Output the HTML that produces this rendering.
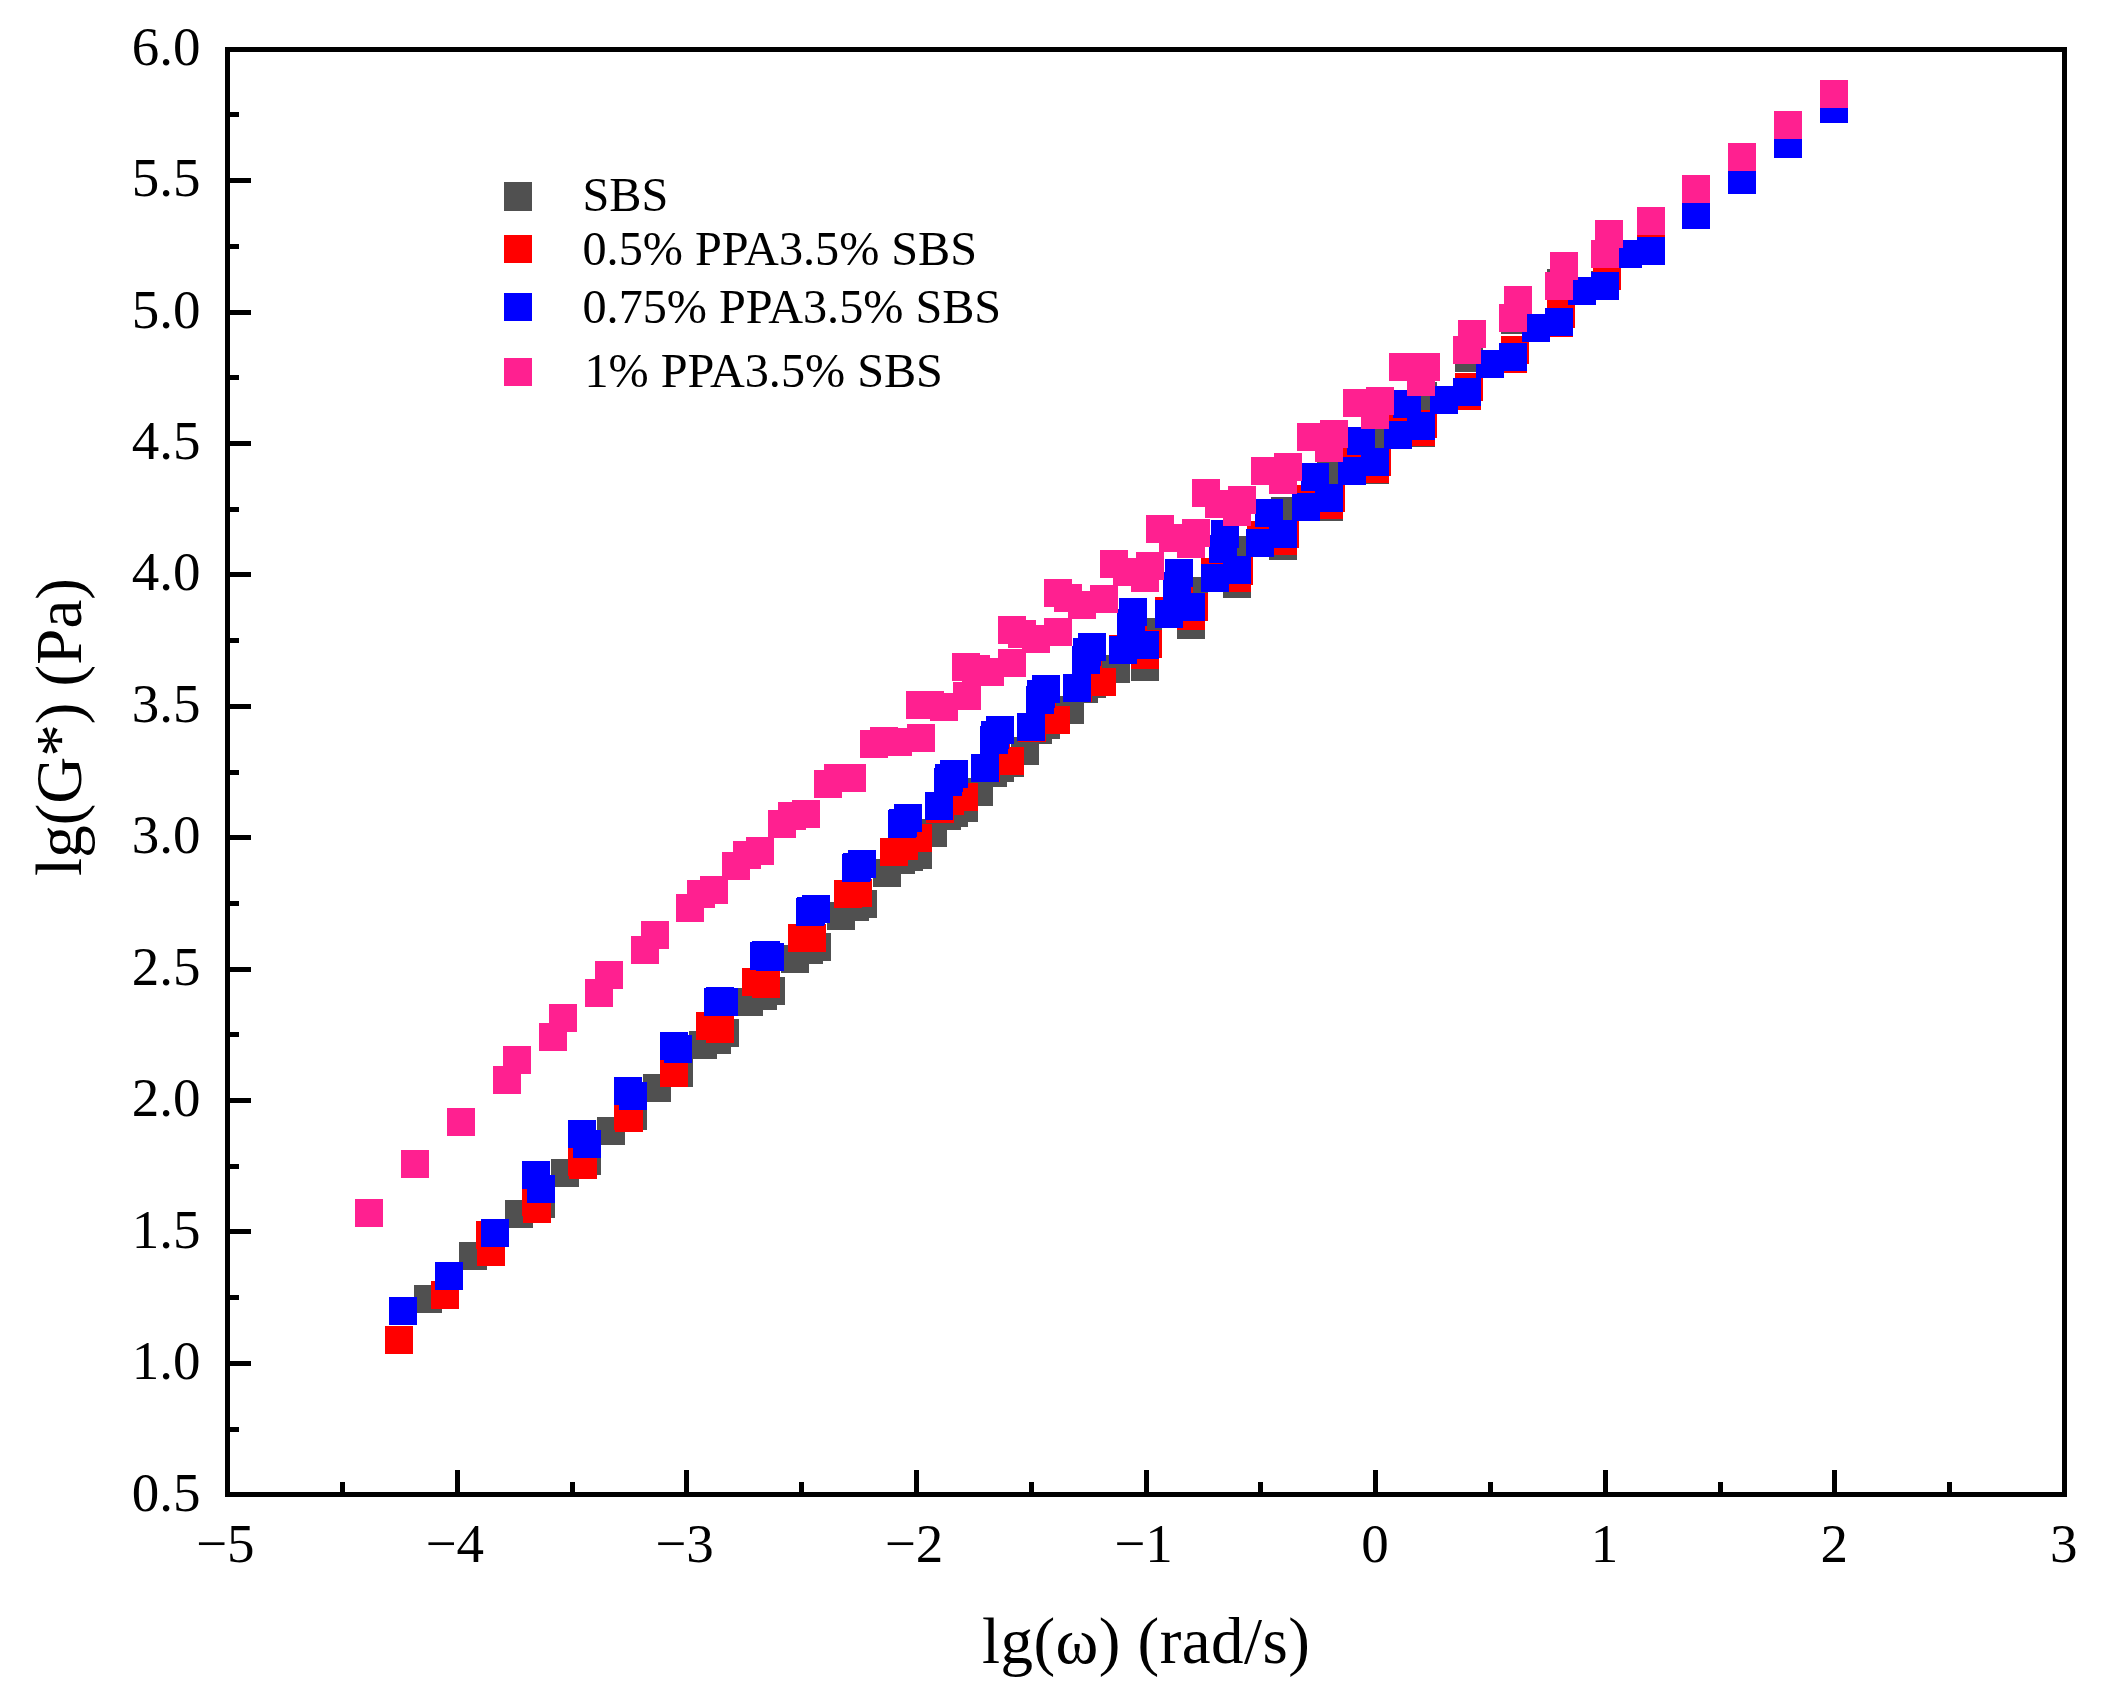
<!DOCTYPE html>
<html lang="en"><head><meta charset="utf-8"><title>lg(G*) vs lg(ω)</title>
<style>
html,body{margin:0;padding:0;background:#fff;}
svg{display:block;}
text{font-family:"Liberation Serif",serif;fill:#000;}
.tk{font-size:55px;}
.ti{font-size:65px;}
.tx{letter-spacing:0.45px;}
.lg{font-size:48.2px;}
</style></head><body>
<svg width="2103" height="1703" viewBox="0 0 2103 1703" shape-rendering="crispEdges">
<rect x="0" y="0" width="2103" height="1703" fill="#fff"/>

<g fill="#505050">
<rect x="413.5" y="1284.5" width="28" height="28"/>
<rect x="459.4" y="1241.5" width="28" height="28"/>
<rect x="505.3" y="1200.4" width="28" height="28"/>
<rect x="551.3" y="1158.5" width="28" height="28"/>
<rect x="597.2" y="1116.9" width="28" height="28"/>
<rect x="643.1" y="1074.0" width="28" height="28"/>
<rect x="689.0" y="1030.6" width="28" height="28"/>
<rect x="734.9" y="987.7" width="28" height="28"/>
<rect x="780.9" y="944.8" width="28" height="28"/>
<rect x="826.8" y="901.8" width="28" height="28"/>
<rect x="872.7" y="859.0" width="28" height="28"/>
<rect x="918.6" y="818.6" width="28" height="28"/>
<rect x="964.5" y="777.7" width="28" height="28"/>
<rect x="1010.5" y="736.7" width="28" height="28"/>
<rect x="1056.4" y="695.8" width="28" height="28"/>
<rect x="1102.3" y="654.8" width="28" height="28"/>
<rect x="527.1" y="1190.0" width="28" height="28"/>
<rect x="573.0" y="1147.0" width="28" height="28"/>
<rect x="618.9" y="1102.0" width="28" height="28"/>
<rect x="664.9" y="1058.6" width="28" height="28"/>
<rect x="710.8" y="1018.7" width="28" height="28"/>
<rect x="756.7" y="976.7" width="28" height="28"/>
<rect x="802.6" y="932.8" width="28" height="28"/>
<rect x="848.5" y="890.0" width="28" height="28"/>
<rect x="894.5" y="842.6" width="28" height="28"/>
<rect x="940.4" y="798.6" width="28" height="28"/>
<rect x="986.3" y="753.7" width="28" height="28"/>
<rect x="1032.2" y="710.8" width="28" height="28"/>
<rect x="1078.1" y="670.0" width="28" height="28"/>
<rect x="1124.1" y="630.0" width="28" height="28"/>
<rect x="1170.0" y="592.0" width="28" height="28"/>
<rect x="1215.9" y="555.0" width="28" height="28"/>
<rect x="703.0" y="1025.7" width="28" height="28"/>
<rect x="748.9" y="981.7" width="28" height="28"/>
<rect x="794.8" y="935.8" width="28" height="28"/>
<rect x="840.8" y="893.0" width="28" height="28"/>
<rect x="886.7" y="845.6" width="28" height="28"/>
<rect x="932.6" y="801.6" width="28" height="28"/>
<rect x="978.5" y="758.7" width="28" height="28"/>
<rect x="1024.4" y="715.8" width="28" height="28"/>
<rect x="1070.4" y="674.8" width="28" height="28"/>
<rect x="1116.3" y="636.0" width="28" height="28"/>
<rect x="1162.2" y="598.0" width="28" height="28"/>
<rect x="1208.1" y="560.0" width="28" height="28"/>
<rect x="1254.0" y="523.0" width="28" height="28"/>
<rect x="1300.0" y="486.0" width="28" height="28"/>
<rect x="1345.9" y="450.0" width="28" height="28"/>
<rect x="1391.8" y="415.0" width="28" height="28"/>
<rect x="904.0" y="840.6" width="28" height="28"/>
<rect x="949.9" y="793.6" width="28" height="28"/>
<rect x="995.8" y="748.7" width="28" height="28"/>
<rect x="1041.8" y="705.0" width="28" height="28"/>
<rect x="1087.7" y="661.0" width="28" height="28"/>
<rect x="1133.6" y="618.3" width="28" height="28"/>
<rect x="1179.5" y="577.1" width="28" height="28"/>
<rect x="1225.4" y="536.3" width="28" height="28"/>
<rect x="1271.4" y="497.3" width="28" height="28"/>
<rect x="1317.3" y="462.1" width="28" height="28"/>
<rect x="1363.2" y="423.0" width="28" height="28"/>
<rect x="1409.1" y="382.3" width="28" height="28"/>
<rect x="1455.0" y="343.7" width="28" height="28"/>
<rect x="1501.0" y="305.5" width="28" height="28"/>
<rect x="1546.9" y="269.3" width="28" height="28"/>
<rect x="1592.8" y="241.0" width="28" height="28"/>
<rect x="1131.4" y="652.8" width="28" height="28"/>
<rect x="1177.3" y="610.7" width="28" height="28"/>
<rect x="1223.2" y="569.8" width="28" height="28"/>
<rect x="1269.2" y="531.9" width="28" height="28"/>
<rect x="1315.1" y="493.0" width="28" height="28"/>
<rect x="1361.0" y="456.0" width="28" height="28"/>
<rect x="1406.9" y="419.0" width="28" height="28"/>
<rect x="1452.8" y="382.0" width="28" height="28"/>
<rect x="1498.8" y="345.0" width="28" height="28"/>
<rect x="1544.7" y="308.0" width="28" height="28"/>
<rect x="1590.6" y="271.1" width="28" height="28"/>
<rect x="1636.5" y="236.0" width="28" height="28"/>
<rect x="1682.4" y="201.0" width="28" height="28"/>
<rect x="1728.4" y="166.0" width="28" height="28"/>
<rect x="1774.3" y="130.0" width="28" height="28"/>
<rect x="1820.2" y="95.0" width="28" height="28"/>
</g>

<g fill="#FF0000">
<rect x="384.9" y="1325.8" width="28" height="28"/>
<rect x="430.8" y="1281.0" width="28" height="28"/>
<rect x="476.7" y="1237.8" width="28" height="28"/>
<rect x="522.7" y="1194.8" width="28" height="28"/>
<rect x="568.6" y="1151.1" width="28" height="28"/>
<rect x="614.5" y="1103.9" width="28" height="28"/>
<rect x="660.4" y="1058.8" width="28" height="28"/>
<rect x="706.3" y="1014.7" width="28" height="28"/>
<rect x="752.3" y="969.7" width="28" height="28"/>
<rect x="798.2" y="923.8" width="28" height="28"/>
<rect x="844.1" y="879.3" width="28" height="28"/>
<rect x="890.0" y="832.0" width="28" height="28"/>
<rect x="935.9" y="786.7" width="28" height="28"/>
<rect x="981.9" y="743.0" width="28" height="28"/>
<rect x="1027.8" y="700.0" width="28" height="28"/>
<rect x="1073.7" y="658.0" width="28" height="28"/>
<rect x="476.0" y="1221.0" width="28" height="28"/>
<rect x="521.9" y="1188.0" width="28" height="28"/>
<rect x="567.8" y="1147.9" width="28" height="28"/>
<rect x="613.8" y="1101.9" width="28" height="28"/>
<rect x="659.7" y="1058.0" width="28" height="28"/>
<rect x="705.6" y="1014.0" width="28" height="28"/>
<rect x="751.5" y="969.0" width="28" height="28"/>
<rect x="797.4" y="923.0" width="28" height="28"/>
<rect x="843.4" y="879.0" width="28" height="28"/>
<rect x="889.3" y="832.0" width="28" height="28"/>
<rect x="935.2" y="787.0" width="28" height="28"/>
<rect x="981.1" y="743.0" width="28" height="28"/>
<rect x="1027.0" y="700.0" width="28" height="28"/>
<rect x="1073.0" y="658.0" width="28" height="28"/>
<rect x="1118.9" y="618.0" width="28" height="28"/>
<rect x="1164.8" y="580.0" width="28" height="28"/>
<rect x="696.1" y="1011.7" width="28" height="28"/>
<rect x="742.0" y="967.7" width="28" height="28"/>
<rect x="787.9" y="923.8" width="28" height="28"/>
<rect x="833.9" y="879.9" width="28" height="28"/>
<rect x="879.8" y="837.6" width="28" height="28"/>
<rect x="925.7" y="794.6" width="28" height="28"/>
<rect x="971.6" y="754.1" width="28" height="28"/>
<rect x="1017.5" y="713.8" width="28" height="28"/>
<rect x="1063.5" y="674.2" width="28" height="28"/>
<rect x="1109.4" y="635.1" width="28" height="28"/>
<rect x="1155.3" y="597.0" width="28" height="28"/>
<rect x="1201.2" y="558.0" width="28" height="28"/>
<rect x="1247.1" y="521.4" width="28" height="28"/>
<rect x="1293.1" y="484.5" width="28" height="28"/>
<rect x="1339.0" y="448.1" width="28" height="28"/>
<rect x="1384.9" y="413.7" width="28" height="28"/>
<rect x="904.0" y="824.0" width="28" height="28"/>
<rect x="949.9" y="782.7" width="28" height="28"/>
<rect x="995.8" y="746.7" width="28" height="28"/>
<rect x="1041.8" y="705.8" width="28" height="28"/>
<rect x="1087.7" y="667.8" width="28" height="28"/>
<rect x="1133.6" y="629.9" width="28" height="28"/>
<rect x="1179.5" y="592.7" width="28" height="28"/>
<rect x="1225.4" y="556.8" width="28" height="28"/>
<rect x="1271.4" y="519.8" width="28" height="28"/>
<rect x="1317.3" y="484.0" width="28" height="28"/>
<rect x="1363.2" y="448.1" width="28" height="28"/>
<rect x="1409.1" y="410.1" width="28" height="28"/>
<rect x="1455.0" y="372.7" width="28" height="28"/>
<rect x="1501.0" y="336.0" width="28" height="28"/>
<rect x="1546.9" y="300.2" width="28" height="28"/>
<rect x="1592.8" y="262.0" width="28" height="28"/>
<rect x="1131.4" y="640.9" width="28" height="28"/>
<rect x="1177.3" y="602.1" width="28" height="28"/>
<rect x="1223.2" y="564.0" width="28" height="28"/>
<rect x="1269.2" y="527.0" width="28" height="28"/>
<rect x="1315.1" y="491.1" width="28" height="28"/>
<rect x="1361.0" y="454.5" width="28" height="28"/>
<rect x="1406.9" y="418.0" width="28" height="28"/>
<rect x="1452.8" y="381.8" width="28" height="28"/>
<rect x="1498.8" y="344.7" width="28" height="28"/>
<rect x="1544.7" y="308.9" width="28" height="28"/>
<rect x="1590.6" y="272.0" width="28" height="28"/>
<rect x="1636.5" y="235.0" width="28" height="28"/>
<rect x="1682.4" y="200.9" width="28" height="28"/>
<rect x="1728.4" y="166.1" width="28" height="28"/>
<rect x="1774.3" y="129.9" width="28" height="28"/>
<rect x="1820.2" y="94.8" width="28" height="28"/>
</g>

<g fill="#0000FF">
<rect x="388.9" y="1297.1" width="28" height="28"/>
<rect x="434.8" y="1261.9" width="28" height="28"/>
<rect x="480.7" y="1219.0" width="28" height="28"/>
<rect x="526.7" y="1175.0" width="28" height="28"/>
<rect x="572.6" y="1129.9" width="28" height="28"/>
<rect x="618.5" y="1082.0" width="28" height="28"/>
<rect x="664.4" y="1035.0" width="28" height="28"/>
<rect x="710.3" y="988.1" width="28" height="28"/>
<rect x="756.3" y="942.8" width="28" height="28"/>
<rect x="802.2" y="895.0" width="28" height="28"/>
<rect x="848.1" y="850.1" width="28" height="28"/>
<rect x="894.0" y="804.0" width="28" height="28"/>
<rect x="939.9" y="760.1" width="28" height="28"/>
<rect x="985.9" y="716.2" width="28" height="28"/>
<rect x="1031.8" y="675.2" width="28" height="28"/>
<rect x="1077.7" y="633.1" width="28" height="28"/>
<rect x="521.9" y="1161.1" width="28" height="28"/>
<rect x="567.8" y="1119.9" width="28" height="28"/>
<rect x="613.7" y="1077.0" width="28" height="28"/>
<rect x="659.7" y="1032.0" width="28" height="28"/>
<rect x="705.6" y="987.1" width="28" height="28"/>
<rect x="751.5" y="941.0" width="28" height="28"/>
<rect x="797.4" y="897.0" width="28" height="28"/>
<rect x="843.3" y="853.1" width="28" height="28"/>
<rect x="889.3" y="809.0" width="28" height="28"/>
<rect x="935.2" y="764.1" width="28" height="28"/>
<rect x="981.1" y="721.1" width="28" height="28"/>
<rect x="1027.0" y="680.2" width="28" height="28"/>
<rect x="1072.9" y="637.9" width="28" height="28"/>
<rect x="1118.9" y="598.1" width="28" height="28"/>
<rect x="1164.8" y="559.1" width="28" height="28"/>
<rect x="1210.7" y="520.2" width="28" height="28"/>
<rect x="704.1" y="988.0" width="28" height="28"/>
<rect x="750.0" y="942.0" width="28" height="28"/>
<rect x="795.9" y="898.0" width="28" height="28"/>
<rect x="841.9" y="854.0" width="28" height="28"/>
<rect x="887.8" y="810.0" width="28" height="28"/>
<rect x="933.7" y="767.7" width="28" height="28"/>
<rect x="979.6" y="725.7" width="28" height="28"/>
<rect x="1025.5" y="685.8" width="28" height="28"/>
<rect x="1071.5" y="645.9" width="28" height="28"/>
<rect x="1117.4" y="609.0" width="28" height="28"/>
<rect x="1163.3" y="572.0" width="28" height="28"/>
<rect x="1209.2" y="535.1" width="28" height="28"/>
<rect x="1255.1" y="498.9" width="28" height="28"/>
<rect x="1301.1" y="463.1" width="28" height="28"/>
<rect x="1347.0" y="427.2" width="28" height="28"/>
<rect x="1392.9" y="390.2" width="28" height="28"/>
<rect x="925.0" y="792.0" width="28" height="28"/>
<rect x="970.9" y="754.1" width="28" height="28"/>
<rect x="1016.8" y="712.8" width="28" height="28"/>
<rect x="1062.8" y="673.8" width="28" height="28"/>
<rect x="1108.7" y="635.9" width="28" height="28"/>
<rect x="1154.6" y="600.0" width="28" height="28"/>
<rect x="1200.5" y="564.1" width="28" height="28"/>
<rect x="1246.4" y="529.0" width="28" height="28"/>
<rect x="1292.4" y="493.4" width="28" height="28"/>
<rect x="1338.3" y="456.8" width="28" height="28"/>
<rect x="1384.2" y="421.4" width="28" height="28"/>
<rect x="1430.1" y="386.1" width="28" height="28"/>
<rect x="1476.0" y="350.2" width="28" height="28"/>
<rect x="1522.0" y="314.0" width="28" height="28"/>
<rect x="1567.9" y="276.9" width="28" height="28"/>
<rect x="1613.8" y="240.0" width="28" height="28"/>
<rect x="1131.4" y="631.3" width="28" height="28"/>
<rect x="1177.3" y="593.0" width="28" height="28"/>
<rect x="1223.2" y="555.7" width="28" height="28"/>
<rect x="1269.2" y="519.8" width="28" height="28"/>
<rect x="1315.1" y="484.0" width="28" height="28"/>
<rect x="1361.0" y="448.1" width="28" height="28"/>
<rect x="1406.9" y="412.0" width="28" height="28"/>
<rect x="1452.8" y="378.2" width="28" height="28"/>
<rect x="1498.8" y="343.1" width="28" height="28"/>
<rect x="1544.7" y="307.9" width="28" height="28"/>
<rect x="1590.6" y="272.1" width="28" height="28"/>
<rect x="1636.5" y="236.9" width="28" height="28"/>
<rect x="1682.4" y="200.9" width="28" height="28"/>
<rect x="1728.4" y="166.1" width="28" height="28"/>
<rect x="1774.3" y="129.9" width="28" height="28"/>
<rect x="1820.2" y="94.8" width="28" height="28"/>
</g>

<g fill="#FF2090">
<rect x="355.0" y="1199.0" width="28" height="28"/>
<rect x="400.9" y="1150.1" width="28" height="28"/>
<rect x="446.8" y="1107.9" width="28" height="28"/>
<rect x="492.8" y="1066.0" width="28" height="28"/>
<rect x="538.7" y="1023.1" width="28" height="28"/>
<rect x="584.6" y="979.1" width="28" height="28"/>
<rect x="630.5" y="936.2" width="28" height="28"/>
<rect x="676.4" y="894.2" width="28" height="28"/>
<rect x="722.4" y="852.1" width="28" height="28"/>
<rect x="768.3" y="810.2" width="28" height="28"/>
<rect x="814.2" y="770.1" width="28" height="28"/>
<rect x="860.1" y="730.1" width="28" height="28"/>
<rect x="906.0" y="691.2" width="28" height="28"/>
<rect x="952.0" y="653.0" width="28" height="28"/>
<rect x="997.9" y="616.1" width="28" height="28"/>
<rect x="1043.8" y="579.1" width="28" height="28"/>
<rect x="502.9" y="1046.0" width="28" height="28"/>
<rect x="548.8" y="1004.1" width="28" height="28"/>
<rect x="594.7" y="961.1" width="28" height="28"/>
<rect x="640.7" y="921.0" width="28" height="28"/>
<rect x="686.6" y="880.3" width="28" height="28"/>
<rect x="732.5" y="841.1" width="28" height="28"/>
<rect x="778.4" y="802.2" width="28" height="28"/>
<rect x="824.3" y="764.1" width="28" height="28"/>
<rect x="870.3" y="727.1" width="28" height="28"/>
<rect x="916.2" y="691.2" width="28" height="28"/>
<rect x="962.1" y="655.0" width="28" height="28"/>
<rect x="1008.0" y="619.9" width="28" height="28"/>
<rect x="1053.9" y="584.3" width="28" height="28"/>
<rect x="1099.9" y="550.0" width="28" height="28"/>
<rect x="1145.8" y="515.0" width="28" height="28"/>
<rect x="1191.7" y="479.1" width="28" height="28"/>
<rect x="700.1" y="876.1" width="28" height="28"/>
<rect x="746.0" y="837.1" width="28" height="28"/>
<rect x="791.9" y="800.0" width="28" height="28"/>
<rect x="837.9" y="763.7" width="28" height="28"/>
<rect x="883.8" y="728.1" width="28" height="28"/>
<rect x="929.7" y="692.8" width="28" height="28"/>
<rect x="975.6" y="657.8" width="28" height="28"/>
<rect x="1021.5" y="624.9" width="28" height="28"/>
<rect x="1067.5" y="591.1" width="28" height="28"/>
<rect x="1113.4" y="558.0" width="28" height="28"/>
<rect x="1159.3" y="524.0" width="28" height="28"/>
<rect x="1205.2" y="489.9" width="28" height="28"/>
<rect x="1251.1" y="457.3" width="28" height="28"/>
<rect x="1297.1" y="423.2" width="28" height="28"/>
<rect x="1343.0" y="389.2" width="28" height="28"/>
<rect x="1388.9" y="353.0" width="28" height="28"/>
<rect x="906.6" y="724.1" width="28" height="28"/>
<rect x="952.5" y="682.2" width="28" height="28"/>
<rect x="998.4" y="649.0" width="28" height="28"/>
<rect x="1044.4" y="618.1" width="28" height="28"/>
<rect x="1090.3" y="585.1" width="28" height="28"/>
<rect x="1136.2" y="552.0" width="28" height="28"/>
<rect x="1182.1" y="519.1" width="28" height="28"/>
<rect x="1228.0" y="486.3" width="28" height="28"/>
<rect x="1274.0" y="453.1" width="28" height="28"/>
<rect x="1319.9" y="420.0" width="28" height="28"/>
<rect x="1365.8" y="387.2" width="28" height="28"/>
<rect x="1411.7" y="353.0" width="28" height="28"/>
<rect x="1457.6" y="320.0" width="28" height="28"/>
<rect x="1503.6" y="286.1" width="28" height="28"/>
<rect x="1549.5" y="252.1" width="28" height="28"/>
<rect x="1595.4" y="220.0" width="28" height="28"/>
<rect x="1131.4" y="564.0" width="28" height="28"/>
<rect x="1177.3" y="530.1" width="28" height="28"/>
<rect x="1223.2" y="498.0" width="28" height="28"/>
<rect x="1269.2" y="466.0" width="28" height="28"/>
<rect x="1315.1" y="434.2" width="28" height="28"/>
<rect x="1361.0" y="401.0" width="28" height="28"/>
<rect x="1406.9" y="368.1" width="28" height="28"/>
<rect x="1452.8" y="336.0" width="28" height="28"/>
<rect x="1498.8" y="304.0" width="28" height="28"/>
<rect x="1544.7" y="272.1" width="28" height="28"/>
<rect x="1590.6" y="240.0" width="28" height="28"/>
<rect x="1636.5" y="207.0" width="28" height="28"/>
<rect x="1682.4" y="175.0" width="28" height="28"/>
<rect x="1728.4" y="143.1" width="28" height="28"/>
<rect x="1774.3" y="111.0" width="28" height="28"/>
<rect x="1820.2" y="80.0" width="28" height="28"/>
</g>

<g stroke="#000" stroke-width="5" fill="none" stroke-linecap="butt">
<rect x="227.7" y="49.6" width="1836.7" height="1444.6000000000001"/>
<line x1="227.7" y1="1429.1" x2="239.2" y2="1429.1"/>
<line x1="227.7" y1="1363.4" x2="251.2" y2="1363.4"/>
<line x1="227.7" y1="1297.7" x2="239.2" y2="1297.7"/>
<line x1="227.7" y1="1231.9" x2="251.2" y2="1231.9"/>
<line x1="227.7" y1="1166.2" x2="239.2" y2="1166.2"/>
<line x1="227.7" y1="1100.5" x2="251.2" y2="1100.5"/>
<line x1="227.7" y1="1034.8" x2="239.2" y2="1034.8"/>
<line x1="227.7" y1="969.1" x2="251.2" y2="969.1"/>
<line x1="227.7" y1="903.4" x2="239.2" y2="903.4"/>
<line x1="227.7" y1="837.7" x2="251.2" y2="837.7"/>
<line x1="227.7" y1="772.0" x2="239.2" y2="772.0"/>
<line x1="227.7" y1="706.2" x2="251.2" y2="706.2"/>
<line x1="227.7" y1="640.5" x2="239.2" y2="640.5"/>
<line x1="227.7" y1="574.8" x2="251.2" y2="574.8"/>
<line x1="227.7" y1="509.1" x2="239.2" y2="509.1"/>
<line x1="227.7" y1="443.4" x2="251.2" y2="443.4"/>
<line x1="227.7" y1="377.7" x2="239.2" y2="377.7"/>
<line x1="227.7" y1="312.0" x2="251.2" y2="312.0"/>
<line x1="227.7" y1="246.3" x2="239.2" y2="246.3"/>
<line x1="227.7" y1="180.5" x2="251.2" y2="180.5"/>
<line x1="227.7" y1="114.8" x2="239.2" y2="114.8"/>
<line x1="342.5" y1="1494.2" x2="342.5" y2="1482.2"/>
<line x1="457.3" y1="1494.2" x2="457.3" y2="1470.2"/>
<line x1="572.1" y1="1494.2" x2="572.1" y2="1482.2"/>
<line x1="686.9" y1="1494.2" x2="686.9" y2="1470.2"/>
<line x1="801.7" y1="1494.2" x2="801.7" y2="1482.2"/>
<line x1="916.5" y1="1494.2" x2="916.5" y2="1470.2"/>
<line x1="1031.3" y1="1494.2" x2="1031.3" y2="1482.2"/>
<line x1="1146.1" y1="1494.2" x2="1146.1" y2="1470.2"/>
<line x1="1260.9" y1="1494.2" x2="1260.9" y2="1482.2"/>
<line x1="1375.7" y1="1494.2" x2="1375.7" y2="1470.2"/>
<line x1="1490.5" y1="1494.2" x2="1490.5" y2="1482.2"/>
<line x1="1605.3" y1="1494.2" x2="1605.3" y2="1470.2"/>
<line x1="1720.1" y1="1494.2" x2="1720.1" y2="1482.2"/>
<line x1="1834.9" y1="1494.2" x2="1834.9" y2="1470.2"/>
<line x1="1949.7" y1="1494.2" x2="1949.7" y2="1482.2"/>
</g>

<g class="tk" shape-rendering="auto">
<text x="200.5" y="1510.8" text-anchor="end">0.5</text>
<text x="200.5" y="1379.3" text-anchor="end">1.0</text>
<text x="200.5" y="1247.8" text-anchor="end">1.5</text>
<text x="200.5" y="1116.4" text-anchor="end">2.0</text>
<text x="200.5" y="984.9" text-anchor="end">2.5</text>
<text x="200.5" y="853.4" text-anchor="end">3.0</text>
<text x="200.5" y="721.9" text-anchor="end">3.5</text>
<text x="200.5" y="590.4" text-anchor="end">4.0</text>
<text x="200.5" y="459.0" text-anchor="end">4.5</text>
<text x="200.5" y="327.5" text-anchor="end">5.0</text>
<text x="200.5" y="196.0" text-anchor="end">5.5</text>
<text x="200.5" y="64.5" text-anchor="end">6.0</text>
<text x="225.2" y="1562.3" text-anchor="middle">−5</text>
<text x="454.8" y="1562.3" text-anchor="middle">−4</text>
<text x="684.4" y="1562.3" text-anchor="middle">−3</text>
<text x="914.0" y="1562.3" text-anchor="middle">−2</text>
<text x="1143.6" y="1562.3" text-anchor="middle">−1</text>
<text x="1375.0" y="1562.3" text-anchor="middle">0</text>
<text x="1604.6" y="1562.3" text-anchor="middle">1</text>
<text x="1834.2" y="1562.3" text-anchor="middle">2</text>
<text x="2063.8" y="1562.3" text-anchor="middle">3</text>
</g>

<text class="ti tx" x="1146.2" y="1662.5" text-anchor="middle">lg(ω) (rad/s)</text>
<text class="ti" transform="translate(80.5,727) rotate(-90)" text-anchor="middle">lg(G*) (Pa)</text>
<rect x="503.9" y="182.3" width="28.2" height="28.2" fill="#505050"/>
<text class="lg" x="582.5" y="211">SBS</text>
<rect x="503.9" y="234.8" width="28.2" height="28.2" fill="#FF0000"/>
<text class="lg" x="582.5" y="264.7">0.5% PPA3.5% SBS</text>
<rect x="503.9" y="292.8" width="28.2" height="28.2" fill="#0000FF"/>
<text class="lg" x="582.5" y="322.6">0.75% PPA3.5% SBS</text>
<rect x="503.9" y="357.8" width="28.2" height="28.2" fill="#FF2090"/>
<text class="lg" x="584.5" y="387">1% PPA3.5% SBS</text>
</svg></body></html>
